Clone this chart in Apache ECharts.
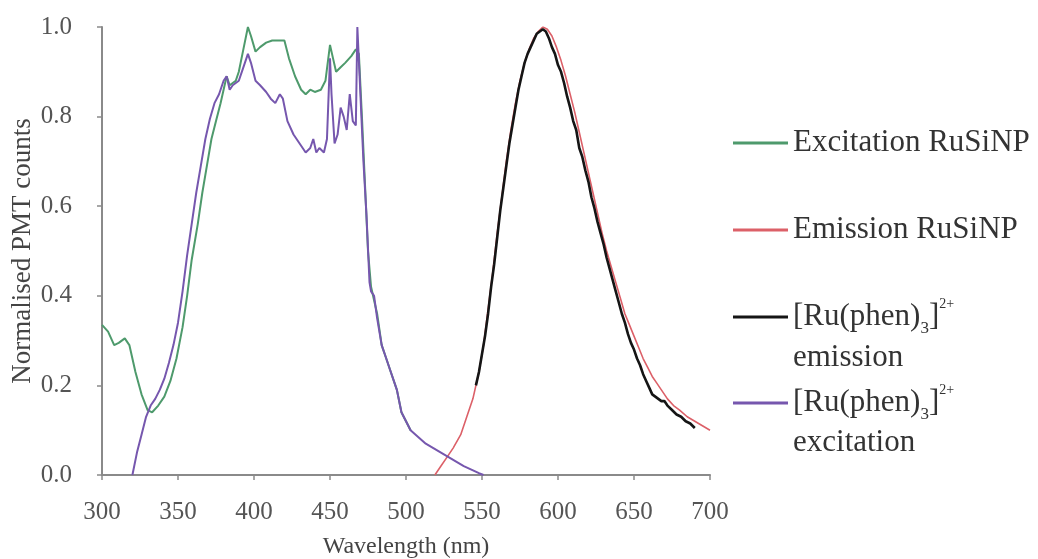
<!DOCTYPE html>
<html><head><meta charset="utf-8">
<script src="https://cdn.jsdelivr.net/npm/echarts@6/dist/echarts.min.js"></script>
<style>html,body{margin:0;padding:0;background:#fff}#c{width:1038px;height:559px}</style>
</head><body><div id="c"></div>
<script>
// ---- data ----
const xTickValues = [300, 350, 400, 450, 500, 550, 600, 650, 700];
const yTickLabels = ['0.0', '0.2', '0.4', '0.6', '0.8', '1.0'];

const excRuSiNP_wl  = [300,304,308,311,315,318,322,326,330,333,337,341,345,349,353,356,359,363,366,369,372,375,378,380,382,384,386,388,390,393,396,398,401,404,408,412,416,420,423,427,431,434,437,440,444,447,450,452,454,457,460,464,467,469,471,473,475,477,479,481,484,487,490,494,497,500,503];
const excRuSiNP_val = [0.335,0.32,0.29,0.295,0.305,0.29,0.23,0.18,0.145,0.14,0.155,0.175,0.21,0.26,0.33,0.40,0.48,0.56,0.63,0.69,0.75,0.79,0.83,0.86,0.89,0.87,0.875,0.88,0.90,0.95,1.0,0.98,0.945,0.955,0.965,0.97,0.97,0.97,0.93,0.89,0.86,0.85,0.86,0.855,0.86,0.88,0.96,0.93,0.90,0.91,0.92,0.935,0.95,0.94,0.80,0.65,0.50,0.42,0.39,0.36,0.29,0.26,0.23,0.19,0.14,0.12,0.10];

const excRuPhen_wl  = [320,323,326,329,332,335,338,341,344,347,350,353,356,359,362,365,368,371,374,377,380,382,384,386,388,390,393,396,398,401,404,408,411,414,417,419,422,426,430,434,437,439,441,443,446,448,450,451,453,455,457,459,461,463,465,467,468,470,472,474,476,477,479,481,484,487,490,494,497,500,503,508,513,518,523,528,533,538,543,548,551];
const excRuPhen_val = [0.0,0.05,0.09,0.13,0.155,0.17,0.19,0.215,0.25,0.29,0.34,0.41,0.49,0.56,0.63,0.69,0.75,0.795,0.83,0.85,0.88,0.89,0.86,0.87,0.875,0.88,0.91,0.94,0.92,0.88,0.87,0.855,0.84,0.83,0.85,0.84,0.79,0.76,0.74,0.72,0.73,0.75,0.72,0.73,0.72,0.75,0.93,0.85,0.74,0.76,0.82,0.80,0.77,0.85,0.79,0.78,1.0,0.85,0.70,0.58,0.43,0.41,0.40,0.35,0.29,0.26,0.23,0.19,0.14,0.12,0.10,0.085,0.07,0.06,0.05,0.04,0.03,0.02,0.012,0.004,0.0];

const emRuSiNP_wl  = [519,523,527,531,536,540,544,548,551,554,557,560,563,566,569,572,575,578,581,584,587,590,593,596,599,602,605,608,611,614,617,620,623,626,629,632,635,638,641,644,647,650,653,656,659,662,665,668,672,676,680,685,690,695,700];
const emRuSiNP_val = [0.0,0.02,0.04,0.06,0.09,0.13,0.17,0.23,0.29,0.37,0.45,0.54,0.62,0.70,0.77,0.83,0.88,0.92,0.95,0.975,0.99,1.0,0.995,0.98,0.955,0.925,0.89,0.85,0.81,0.765,0.72,0.675,0.63,0.585,0.54,0.50,0.465,0.43,0.395,0.36,0.335,0.31,0.285,0.26,0.24,0.22,0.205,0.19,0.17,0.155,0.145,0.13,0.12,0.11,0.10];

const emRuPhen_wl  = [546,548,550,552,554,556,558,560,562,564,566,568,570,572,574,576,578,580,582,584,586,588,590,592,594,596,598,600,602,604,606,608,610,612,614,616,618,620,622,624,626,628,630,632,634,636,638,640,642,644,646,648,650,652,654,656,658,660,662,664,666,668,670,672,675,678,681,684,687,690];
const emRuPhen_val = [0.20,0.23,0.27,0.31,0.36,0.42,0.47,0.53,0.59,0.64,0.69,0.74,0.78,0.82,0.86,0.89,0.92,0.94,0.955,0.97,0.985,0.99,0.995,0.99,0.975,0.955,0.94,0.915,0.90,0.875,0.845,0.82,0.79,0.77,0.73,0.71,0.68,0.655,0.62,0.595,0.565,0.54,0.515,0.485,0.46,0.435,0.41,0.385,0.36,0.34,0.315,0.295,0.28,0.26,0.245,0.225,0.21,0.195,0.18,0.175,0.17,0.165,0.165,0.155,0.145,0.135,0.13,0.12,0.115,0.105];

// ---- build ----
const zip = (a, b) => a.map((x, i) => [x, b[i]]);
const FONT = 'Liberation Serif';
const NAME1 = 'Excitation RuSiNP', NAME2 = 'Emission RuSiNP',
      NAME3 = '[Ru(phen)3]2+ emission', NAME4 = '[Ru(phen)3]2+ excitation';

const rich = {
  a:   {fontFamily: FONT, fontSize: 31, lineHeight: 40, color: '#333'},
  sub: {fontFamily: FONT, fontSize: 17, lineHeight: 24, verticalAlign: 'bottom', color: '#333'},
  sup: {fontFamily: FONT, fontSize: 14, lineHeight: 24, verticalAlign: 'top', color: '#333'}
};
function legendFmt(name) {
  if (name === NAME3 || name === NAME4) return '{a|[Ru(phen)}{sub|3}{a|]}{sup|2+}';
  return '{a|' + name + '}';
}
function mkLegend(name, centerY) {
  return {
    data: [name], left: 733, top: centerY - 20, orient: 'vertical',
    icon: 'rect', itemWidth: 55, itemHeight: 3, padding: 0,
    selectedMode: false, formatter: legendFmt,
    textStyle: {fontFamily: FONT, fontSize: 31, lineHeight: 40, color: '#333', rich: rich}
  };
}

const chart = echarts.init(document.getElementById('c'));
chart.setOption({
  animation: false,
  backgroundColor: '#fff',
  grid: {left: 102, right: 328, top: 27, bottom: 84, containLabel: false, outerBoundsMode: 'none'},
  xAxis: {
    type: 'value', min: 300, max: 700, interval: 50,
    name: 'Wavelength (nm)', nameLocation: 'middle', nameGap: 60, nameMoveOverlap: false,
    nameTextStyle: {fontFamily: FONT, fontSize: 24, color: '#444'},
    axisLine: {show: true, lineStyle: {color: '#8a8a8a', width: 2}},
    axisTick: {show: true, length: 5, lineStyle: {color: '#8a8a8a', width: 1.5}},
    axisLabel: {margin: 25, fontFamily: FONT, fontSize: 25, color: '#555',
      formatter: v => xTickValues.indexOf(v) >= 0 ? String(v) : ''},
    splitLine: {show: false}
  },
  yAxis: {
    type: 'value', min: 0, max: 1, interval: 0.2,
    name: 'Normalised PMT counts', nameLocation: 'middle', nameGap: 66, nameMoveOverlap: false,
    nameTextStyle: {fontFamily: FONT, fontSize: 27, color: '#444'},
    axisLine: {show: true, lineStyle: {color: '#8a8a8a', width: 2}},
    axisTick: {show: true, length: 5, lineStyle: {color: '#8a8a8a', width: 1.5}},
    axisLabel: {margin: 30, fontFamily: FONT, fontSize: 25, color: '#555',
      formatter: v => yTickLabels[Math.round(v / 0.2)]},
    splitLine: {show: false}
  },
  legend: [mkLegend(NAME1, 143), mkLegend(NAME2, 230), mkLegend(NAME3, 317), mkLegend(NAME4, 403)],
  graphic: [
    {type: 'text', x: 793, y: 358, style: {text: 'emission', fontFamily: FONT, fontSize: 31, fill: '#333', verticalAlign: 'middle'}},
    {type: 'text', x: 793, y: 443, style: {text: 'excitation', fontFamily: FONT, fontSize: 31, fill: '#333', verticalAlign: 'middle'}}
  ],
  series: [
    {name: NAME1, type: 'line', data: zip(excRuSiNP_wl, excRuSiNP_val), showSymbol: false, symbol: 'none',
     lineStyle: {color: '#4e9a6c', width: 2}, itemStyle: {color: '#4e9a6c'}, z: 2},
    {name: NAME4, type: 'line', data: zip(excRuPhen_wl, excRuPhen_val), showSymbol: false, symbol: 'none',
     lineStyle: {color: '#7657ae', width: 2}, itemStyle: {color: '#7657ae'}, z: 3},
    {name: NAME2, type: 'line', data: zip(emRuSiNP_wl, emRuSiNP_val), showSymbol: false, symbol: 'none',
     lineStyle: {color: '#dc6068', width: 1.6}, itemStyle: {color: '#dc6068'}, z: 2},
    {name: NAME3, type: 'line', data: zip(emRuPhen_wl, emRuPhen_val), showSymbol: false, symbol: 'none',
     lineStyle: {color: '#151515', width: 2.6}, itemStyle: {color: '#151515'}, z: 3}
  ]
});
</script>
</body></html>
